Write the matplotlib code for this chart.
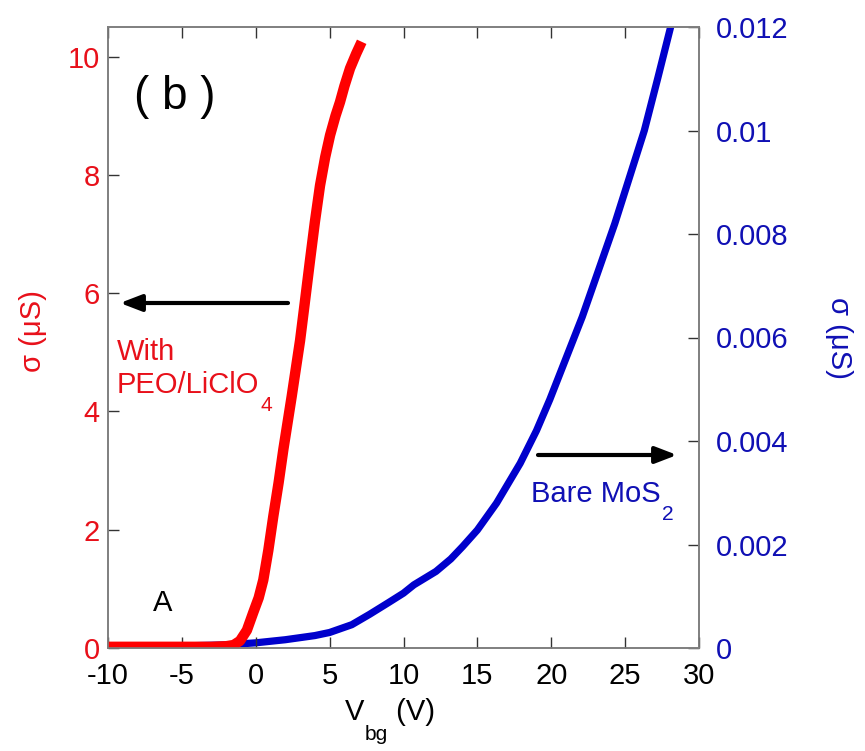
import matplotlib
matplotlib.use("Agg")
import matplotlib.pyplot as plt

plt.rcParams['font.family'] = ['Liberation Sans', 'DejaVu Sans']
plt.rcParams['axes.unicode_minus'] = False

# Data: gate voltage (V) vs conductivity (uS)
red_v = [-10, -6, -3, -2, -1.5, -1.07, -0.6, -0.17, 0.2, 0.51, 0.85, 1.19, 1.55,
         1.87, 2.43, 3.0, 3.3, 3.67, 4.0, 4.35, 4.7, 5.03, 5.4, 5.7, 6.0, 6.38, 6.8, 7.17]
red_s = [0.02, 0.02, 0.02, 0.03, 0.05, 0.12, 0.3, 0.6, 0.85, 1.15, 1.65, 2.23, 2.8,
         3.36, 4.25, 5.2, 5.8, 6.55, 7.2, 7.82, 8.3, 8.67, 9.0, 9.23, 9.5, 9.8, 10.05, 10.25]

blue_v = [-10, -5, -2, 0, 2, 4, 5.0, 6.5, 7.7, 9.0, 10.0, 10.7, 12.2, 13.2, 14.0, 15.0,
          16.3, 17.9, 19.0, 19.9, 21.0, 22.1, 23.2, 24.3, 25.3, 26.3, 27.2, 28.08]
blue_s = [0.00002, 0.00004, 0.00006, 0.0001, 0.00016, 0.00024, 0.0003, 0.00045, 0.00065,
          0.00088, 0.00106, 0.00122, 0.00148, 0.00172, 0.00196, 0.00228, 0.0028, 0.00357,
          0.0042, 0.0048, 0.0056, 0.0064, 0.0073, 0.0082, 0.0091, 0.0100, 0.0110, 0.012]

x_ticks = [-10, -5, 0, 5, 10, 15, 20, 25, 30]
left_ticks = [0, 2, 4, 6, 8, 10]
right_ticks = [0, 0.002, 0.004, 0.006, 0.008, 0.01, 0.012]
right_labels = ['0', '0.002', '0.004', '0.006', '0.008', '0.01', '0.012']

RED = '#ff0000'
RED_T = '#e8101a'
BLUE = '#0000cc'
BLUE_T = '#1010b4'
GRAY = '#7f7f7f'
FS = 21

fig = plt.figure(figsize=(8.65, 7.51), dpi=100)
ax = fig.add_axes([108/865, 1-648/751, (699-108)/865, (648-27)/751])
ax2 = ax.twinx()
ax.set_zorder(ax2.get_zorder() + 1)
ax.patch.set_visible(False)

ax2.plot(blue_v, blue_s, color=BLUE, lw=5.2, solid_capstyle='round',
         solid_joinstyle='round')
ax.plot(red_v, red_s, color=RED, lw=7.5, solid_capstyle='butt', solid_joinstyle='round')

ax.set_xlim(-10, 30)
ax.set_ylim(0, 10.5)
ax2.set_ylim(0, 0.012)

ax.set_xticks(x_ticks)
ax.set_yticks(left_ticks)
ax2.set_yticks(right_ticks)
ax2.set_yticklabels(right_labels)

for a in (ax, ax2):
    for s in a.spines.values():
        s.set_color(GRAY)
        s.set_linewidth(1.2)

ax.tick_params(axis='x', direction='in', length=8, width=1, color='#333333',
               labelsize=FS, pad=10, top=True, labelcolor='black')
ax.tick_params(axis='y', direction='in', length=8, width=1, color='#333333',
               labelsize=FS, pad=6, labelcolor=RED_T)
ax2.tick_params(axis='y', direction='in', length=8, width=1, color='#333333',
                labelsize=FS, pad=12, labelcolor=BLUE_T)

ax.set_ylabel('σ (μS)', fontsize=FS, color=RED_T)
ax.yaxis.set_label_coords(-0.104, 0.51)
ax2.set_ylabel('σ (μS)', fontsize=FS, color=BLUE_T, rotation=270)
ax2.yaxis.set_label_coords(1.26, 0.5)

ff = fig.transFigure

# xlabel: V_bg (V)
tV = ax.annotate('V', xy=(345/865, 1-712/751), xycoords='figure fraction',
                 fontsize=FS, ha='left', va='center', color='black')
tbg = ax.annotate('bg', xy=(1, 0), xycoords=tV, xytext=(0, -6), textcoords='offset points',
                  fontsize=FS*0.72, ha='left', va='center', color='black')
ax.annotate(' (V)', xy=(1, 0.5), xycoords=(tbg, tV),
            fontsize=FS, ha='left', va='center', color='black')

ax.text(175/865, 1-97/751, '( b )', transform=ff, fontsize=33,
        ha='center', va='center', color='black')
ax.text(163/865, 1-603/751, 'A', transform=ff, fontsize=FS,
        ha='center', va='center', color='black')

ax.text(117/865, 1-352/751, 'With', transform=ff, fontsize=FS,
        ha='left', va='center', color=RED_T)
tp = ax.annotate('PEO/LiClO', xy=(117/865, 1-385/751), xycoords='figure fraction',
                 fontsize=FS, ha='left', va='center', color=RED_T)
ax.annotate('4', xy=(1, 0), xycoords=tp, xytext=(1, -5), textcoords='offset points',
            fontsize=FS*0.72, ha='left', va='center', color=RED_T)
tb = ax.annotate('Bare MoS', xy=(531/865, 1-494/751), xycoords='figure fraction',
                 fontsize=FS, ha='left', va='center', color=BLUE_T)
ax.annotate('2', xy=(1, 0), xycoords=tb, xytext=(1, -5), textcoords='offset points',
            fontsize=FS*0.72, ha='left', va='center', color=BLUE_T)

ax.annotate('', xy=(120/865, 1-303/751), xytext=(288/865, 1-303/751),
            xycoords='figure fraction', textcoords='figure fraction',
            arrowprops=dict(arrowstyle='-|>,head_length=1.3,head_width=0.5',
                            lw=3, color='black', shrinkA=0, shrinkB=0))
ax.annotate('', xy=(677/865, 1-455/751), xytext=(538/865, 1-455/751),
            xycoords='figure fraction', textcoords='figure fraction',
            arrowprops=dict(arrowstyle='-|>,head_length=1.3,head_width=0.5',
                            lw=3, color='black', shrinkA=0, shrinkB=0))

fig.savefig('out.png', dpi=100)
